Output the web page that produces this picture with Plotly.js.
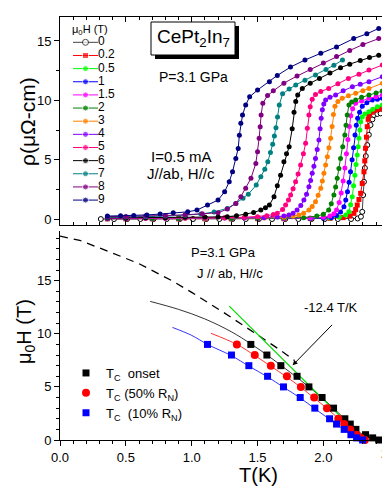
<!DOCTYPE html>
<html>
<head>
<meta charset="utf-8">
<script src="https://cdn.plot.ly/plotly-3.0.1.min.js"></script>
<style>
  html, body { margin: 0; padding: 0; background: #fff; }
  #chart { width: 382px; height: 494px; }
</style>
</head>
<body>
<div id="chart"></div>
<script>
// ---- top panel: rho(T) at fixed fields ----
var fields = ['0', '0.2', '0.5', '1', '1.5', '2', '3', '4', '5', '6', '7', '8', '9'];

var t_0T = [0.31,0.41,0.51,0.61,0.71,0.81,0.91,1.01,1.11,1.21,1.31,1.41,1.51,1.61,1.71,1.81,1.91,2.01,2.11,2.21,2.26,2.285,2.295,2.302,2.308,2.315,2.322,2.333,2.345,2.358,2.372,2.384,2.41,2.435];
var rho_0T = [0,0,0,0,0,0,0,0,0,0,0,0,0,0,0,0,0,0,0,0,0.05,0.2,0.61,2.02,3.14,4.3,5.3,6.23,7.1,7.92,8.4,8.76,8.85,8.9];

var t_02T = [0.36,0.5,0.7,0.9,1.1,1.3,1.5,1.7,1.9,2.05,2.15,2.2,2.232,2.245,2.257,2.27,2.283,2.295,2.308,2.314,2.32,2.327,2.333,2.34,2.346,2.37,2.397,2.42,2.447];
var rho_02T = [0.02,0.02,0.02,0.02,0.02,0.02,0.03,0.03,0.04,0.06,0.12,0.25,0.48,0.8,1.18,1.65,2.17,3.0,3.98,4.9,5.96,6.9,7.78,8.4,8.76,9.0,9.18,9.26,9.33];

var t_05T = [0.36,0.5,0.7,0.9,1.1,1.3,1.5,1.7,1.9,2.05,2.12,2.17,2.194,2.207,2.219,2.229,2.239,2.248,2.257,2.264,2.27,2.277,2.283,2.295,2.315,2.346,2.375,2.41,2.447];
var rho_05T = [0.03,0.03,0.03,0.03,0.03,0.03,0.03,0.04,0.05,0.08,0.15,0.34,0.61,1.2,1.88,2.8,3.7,4.6,5.39,6.1,6.8,7.5,8.2,8.6,8.85,9.04,9.25,9.45,9.6];

var t_1T = [0.36,0.5,0.7,0.9,1.1,1.3,1.5,1.7,1.9,2.0,2.06,2.1,2.13,2.156,2.17,2.183,2.195,2.206,2.218,2.229,2.24,2.25,2.26,2.275,2.295,2.33,2.371,2.41,2.447];
var rho_1T = [0.03,0.03,0.03,0.03,0.03,0.03,0.04,0.04,0.05,0.07,0.12,0.3,0.6,1.04,1.6,2.3,3.1,3.98,5.0,6.0,7.08,7.9,8.5,9.0,9.5,9.8,10.03,10.1,10.17];

var t_15T = [0.36,0.5,0.7,0.9,1.1,1.3,1.5,1.7,1.9,2.0,2.05,2.08,2.1,2.12,2.135,2.15,2.163,2.175,2.186,2.197,2.208,2.222,2.245,2.29,2.346,2.4,2.447];
var rho_15T = [0.04,0.04,0.04,0.04,0.04,0.05,0.05,0.05,0.08,0.15,0.25,0.45,0.76,1.4,2.2,3.2,4.3,5.5,6.7,7.8,8.7,9.3,9.75,9.95,10.17,10.3,10.45];

var t_2T = [0.36,0.5,0.7,0.9,1.1,1.3,1.5,1.7,1.85,1.95,2.0,2.04,2.06,2.08,2.093,2.105,2.118,2.13,2.147,2.163,2.172,2.181,2.194,2.215,2.245,2.29,2.346,2.4,2.447];
var rho_2T = [0.05,0.05,0.05,0.05,0.05,0.05,0.06,0.08,0.12,0.25,0.4,0.76,1.3,2.02,2.7,3.43,4.25,5.11,6.1,7.08,7.9,8.76,9.6,9.85,10.03,10.25,10.45,10.62,10.78];

var t_3T = [0.36,0.5,0.65,0.8,0.95,1.1,1.25,1.4,1.55,1.7,1.77,1.814,1.85,1.89,1.915,1.94,1.96,1.98,1.992,2.004,2.017,2.03,2.042,2.055,2.066,2.076,2.088,2.11,2.143,2.19,2.245,2.3,2.346,2.447];
var rho_3T = [0.05,0.05,0.05,0.06,0.06,0.07,0.08,0.08,0.1,0.15,0.25,0.34,0.5,0.76,1.05,1.46,2.0,2.59,3.2,3.85,4.55,5.25,6.0,6.8,7.8,8.8,9.5,9.9,10.17,10.38,10.59,10.8,11.0,11.43];

var t_4T = [0.36,0.5,0.65,0.8,0.95,1.1,1.25,1.4,1.55,1.65,1.7,1.738,1.77,1.8,1.828,1.852,1.872,1.89,1.903,1.915,1.928,1.94,1.953,1.966,1.975,1.983,1.992,2.003,2.017,2.05,2.093,2.15,2.22,2.28,2.346,2.447];
var rho_4T = [0.05,0.05,0.07,0.07,0.08,0.08,0.1,0.1,0.12,0.18,0.25,0.34,0.5,0.76,1.15,1.6,2.1,2.72,3.25,3.85,4.45,5.11,5.85,6.66,7.6,8.5,9.2,9.7,10.03,10.25,10.45,10.8,11.15,11.35,11.57,11.99];

var t_5T = [0.36,0.5,0.65,0.8,0.95,1.1,1.25,1.4,1.5,1.57,1.62,1.65,1.69,1.713,1.735,1.751,1.77,1.789,1.808,1.827,1.848,1.865,1.878,1.89,1.9,1.915,1.94,1.98,2.04,2.11,2.19,2.27,2.346,2.447];
var rho_5T = [0.08,0.08,0.1,0.1,0.1,0.12,0.12,0.15,0.2,0.28,0.38,0.48,0.8,1.18,1.6,2.02,2.55,3.14,3.8,4.55,5.5,6.38,7.64,8.76,9.46,10.1,10.5,10.75,11.0,11.4,11.85,12.2,12.55,12.97];

var t_6T = [0.36,0.5,0.65,0.8,0.95,1.1,1.2,1.27,1.34,1.41,1.47,1.525,1.56,1.59,1.625,1.65,1.675,1.7,1.72,1.74,1.763,1.777,1.79,1.805,1.84,1.9,1.97,2.05,2.13,2.2,2.28,2.35,2.42];
var rho_6T = [0.1,0.1,0.12,0.12,0.15,0.17,0.18,0.2,0.28,0.4,0.55,0.76,0.95,1.18,1.88,2.8,3.7,4.83,5.5,6.1,7.6,9.0,9.9,10.45,11.0,11.45,11.85,12.3,12.75,13.05,13.35,13.6,13.8];

var t_7T = [0.36,0.5,0.65,0.8,0.95,1.07,1.17,1.27,1.335,1.39,1.43,1.49,1.525,1.555,1.578,1.598,1.615,1.628,1.64,1.652,1.665,1.69,1.74,1.79,1.86,1.94,2.02,2.08,2.145];
var rho_7T = [0.15,0.17,0.2,0.25,0.33,0.42,0.6,0.9,1.32,1.75,2.1,2.86,3.56,4.2,4.83,5.6,6.3,7.0,7.7,8.6,9.6,10.55,10.95,11.3,11.7,12.13,12.6,12.95,13.4];

var t_8T = [0.36,0.5,0.65,0.8,0.95,1.08,1.2,1.27,1.335,1.373,1.41,1.45,1.487,1.5,1.512,1.52,1.527,1.54,1.576,1.62,1.7,1.8,1.9,2.0,2.1,2.2,2.3,2.42];
var rho_8T = [0.2,0.22,0.25,0.3,0.36,0.44,0.53,0.84,1.32,1.88,2.59,3.43,4.69,5.67,6.8,7.78,8.76,9.75,10.4,10.8,11.45,12.05,12.6,13.15,13.7,14.2,14.7,15.2];

var t_9T = [0.36,0.46,0.56,0.66,0.76,0.86,0.97,1.04,1.12,1.2,1.25,1.285,1.31,1.335,1.353,1.362,1.373,1.386,1.41,1.44,1.5,1.59,1.65,1.75,1.86,1.98,2.1,2.23,2.33,2.42];
var rho_9T = [0.25,0.27,0.3,0.35,0.42,0.53,0.61,0.76,1.18,1.6,2.3,3.14,3.98,5.1,5.95,7.07,8.07,8.76,9.6,10.3,10.87,11.57,12.1,12.8,13.4,13.96,14.5,15.2,15.6,16.06];

// ---- bottom panel: H-T phase diagram ----
var fieldH = [9, 8, 7, 6, 5, 4, 3, 2, 1.5, 1, 0.5, 0.2, 0];
var tcOnset = [1.449, 1.571, 1.677, 1.80, 1.89, 1.99, 2.077, 2.163, 2.204, 2.247, 2.32, 2.374, 2.42];
var tc50 = [1.343, 1.479, 1.601, 1.723, 1.829, 1.93, 2.027, 2.113, 2.158, 2.204, 2.252, 2.285, 2.315];
var tc10 = [1.12, 1.302, 1.434, 1.576, 1.697, 1.824, 1.935, 2.047, 2.10, 2.158, 2.209, 2.252, 2.298];

// fit curves
var whhT = [0, 0.15, 0.4, 0.6, 0.85, 1.0, 1.25, 1.4, 1.53, 1.68, 1.78];
var whhH = [19.2, 18.8, 17.6, 16.6, 15.0, 13.9, 11.95, 10.75, 9.65, 8.4, 7.5];
var fitOnsetT = [0.685, 0.9, 1.1, 1.3, 1.45, 1.6, 1.75, 1.9, 2.05, 2.2, 2.3, 2.4];
var fitOnsetH = [13.05, 12.3, 11.4, 10.2, 9.05, 7.75, 6.35, 4.9, 3.3, 1.55, 0.5, 0.0];
var fit50T = [1.146, 1.343, 1.48, 1.6, 1.72, 1.83, 1.93, 2.03, 2.115, 2.205, 2.26, 2.315];
var fit50H = [10.05, 9.0, 7.95, 6.95, 5.95, 4.95, 3.95, 2.95, 2.0, 1.0, 0.45, 0];
var fit10T = [0.854, 1.0, 1.12, 1.3, 1.435, 1.575, 1.7, 1.825, 1.935, 2.047, 2.158, 2.23, 2.3];
var fit10H = [10.6, 9.85, 9.0, 7.95, 6.95, 5.95, 4.95, 3.95, 2.95, 1.95, 0.95, 0.35, 0];
var slopeT = [1.285, 2.31];
var slopeH = [12.6, 0.0];

var curves = [
  [t_0T, rho_0T], [t_02T, rho_02T], [t_05T, rho_05T], [t_1T, rho_1T], [t_15T, rho_15T],
  [t_2T, rho_2T], [t_3T, rho_3T], [t_4T, rho_4T], [t_5T, rho_5T], [t_6T, rho_6T],
  [t_7T, rho_7T], [t_8T, rho_8T], [t_9T, rho_9T]
];
var colors = ['#000000', '#ff0000', '#00ff00', '#0000ff', '#ff00ff', '#008000', '#ff8000',
              '#8000ff', '#ff0080', '#000000', '#008080', '#800080', '#000080'];

var FONT = 'Arial, "Liberation Sans", sans-serif';
// pixel -> paper helpers (plot area 60..382 x 17..440)
function px(p) { return (p - 60) / 322; }
function py(p) { return (440 - p) / 423; }

var data = [];

curves.forEach(function (c, i) {
  var mk = { size: 5, color: colors[i], symbol: i === 1 ? 'square' : 'circle' };
  if (i === 0) mk = { size: 5, color: '#ffffff', symbol: 'circle', line: { color: '#000', width: 1 } };
  data.push({
    x: c[0], y: c[1], xaxis: 'x', yaxis: 'y', type: 'scatter', mode: 'lines+markers',
    line: { color: i === 0 ? '#444' : colors[i], width: 1 }, marker: mk,
    showlegend: false, hoverinfo: 'skip'
  });
});

// compact legend for the top panel, drawn on its own small axes
fields.forEach(function (f, i) {
  var mk = { size: [0, 6, 0], color: colors[i], symbol: i === 1 ? 'square' : 'circle' };
  if (i === 0) mk = { size: [0, 6, 0], color: '#ffffff', symbol: 'circle', line: { color: '#000', width: [0, 1, 0] } };
  data.push({
    x: [0, 0.5, 1], y: [i, i, i], xaxis: 'x4', yaxis: 'y4', type: 'scatter',
    mode: 'lines+markers+text', text: ['', '', f], textposition: 'middle right',
    textfont: { family: FONT, size: 12, color: '#000' }, cliponaxis: false,
    line: { color: i === 0 ? '#444' : colors[i], width: 1 }, marker: mk,
    showlegend: false, hoverinfo: 'skip'
  });
});

// bottom panel lines
data.push({ x: whhT, y: whhH, xaxis: 'x2', yaxis: 'y2', mode: 'lines',
  line: { color: '#000', width: 1.3, dash: '8px,6px' }, showlegend: false, hoverinfo: 'skip' });
data.push({ x: fitOnsetT, y: fitOnsetH, xaxis: 'x2', yaxis: 'y2', mode: 'lines', line: { color: '#000', width: 0.8, shape: 'spline' }, showlegend: false, hoverinfo: 'skip' });
data.push({ x: fit50T, y: fit50H, xaxis: 'x2', yaxis: 'y2', mode: 'lines', line: { color: '#ff0000', width: 0.8, shape: 'spline' }, showlegend: false, hoverinfo: 'skip' });
data.push({ x: fit10T, y: fit10H, xaxis: 'x2', yaxis: 'y2', mode: 'lines', line: { color: '#0000ff', width: 0.8, shape: 'spline' }, showlegend: false, hoverinfo: 'skip' });
data.push({ x: slopeT, y: slopeH, xaxis: 'x2', yaxis: 'y2', mode: 'lines', line: { color: '#00dd00', width: 1.2 }, showlegend: false, hoverinfo: 'skip' });

// bottom panel markers
data.push({ x: tcOnset, y: fieldH, xaxis: 'x2', yaxis: 'y2', mode: 'markers', name: 'T<sub>C</sub>\u00a0\u00a0onset',
  marker: { symbol: 'square', size: 7, color: '#000' }, cliponaxis: false });
data.push({ x: tc50, y: fieldH, xaxis: 'x2', yaxis: 'y2', mode: 'markers', name: 'T<sub>C</sub>\u00a0(50% R<sub>N</sub>)',
  marker: { symbol: 'circle', size: 8, color: '#ff0000' }, cliponaxis: false });
data.push({ x: tc10, y: fieldH, xaxis: 'x2', yaxis: 'y2', mode: 'markers', name: 'T<sub>C</sub>\u00a0\u00a0(10% R<sub>N</sub>)',
  marker: { symbol: 'square', size: 7, color: '#0000ff' }, cliponaxis: false });

var xr = [0, 2.445];
var axCommon = { showline: true, linecolor: '#000', linewidth: 1, zeroline: false, showgrid: false,
  tickcolor: '#000', tickfont: { family: FONT, size: 13, color: '#000' } };

function note(text, x, y, size, angle) {
  return { text: text, xref: 'paper', yref: 'paper', x: px(x), y: py(y), xanchor: 'center', yanchor: 'middle',
    textangle: angle || 0, showarrow: false, font: { family: FONT, size: size, color: '#000' } };
}

var layout = {
  width: 382, height: 494,
  margin: { l: 60, r: 0, t: 17, b: 54 },
  paper_bgcolor: '#fff', plot_bgcolor: 'rgba(0,0,0,0)',
  font: { family: FONT, color: '#000' },
  showlegend: true,
  xaxis: Object.assign({}, axCommon, { anchor: 'y', domain: [0, 1], range: xr, ticks: 'inside', mirror: 'ticks',
    dtick: 0.5, ticklen: 5, showticklabels: false,
    minor: { dtick: 0.1, ticklen: 3, ticks: 'inside', tickcolor: '#000' } }),
  yaxis: Object.assign({}, axCommon, { anchor: 'x', domain: [py(225), 1], range: [-0.5, 17.02], ticks: 'outside',
    dtick: 5, ticklen: 5, minor: { dtick: 2.5, ticklen: 3, ticks: 'outside', tickcolor: '#000' } }),
  xaxis2: Object.assign({}, axCommon, { anchor: 'y2', domain: [0, 1], range: xr, ticks: 'outside',
    dtick: 0.5, ticklen: 5, tickformat: '.1f',
    minor: { dtick: 0.1, ticklen: 3, ticks: 'outside', tickcolor: '#000' } }),
  xaxis3: Object.assign({}, axCommon, { overlaying: 'x2', anchor: 'y2', side: 'top', range: xr, ticks: 'inside',
    dtick: 0.5, ticklen: 5, showticklabels: false,
    minor: { dtick: 0.1, ticklen: 3, ticks: 'inside', tickcolor: '#000' } }),
  yaxis2: Object.assign({}, axCommon, { anchor: 'x2', domain: [0, py(231)], range: [0, 19.68], ticks: 'outside',
    dtick: 5, ticklen: 5, minor: { dtick: 1, ticklen: 3, ticks: 'outside', tickcolor: '#000' } }),
  xaxis4: { domain: [px(73), px(98)], anchor: 'y4', range: [0, 1], autorange: false, visible: false, fixedrange: true },
  yaxis4: { domain: [py(206.65), py(35.75)], anchor: 'x4', range: [12.5, -0.5], autorange: false, visible: false, fixedrange: true },
  legend: { x: px(66), y: py(358), xanchor: 'left', yanchor: 'top', bgcolor: 'rgba(0,0,0,0)',
    font: { family: FONT, size: 13, color: '#000' }, tracegroupgap: 0 },
  shapes: [
    { type: 'rect', xref: 'paper', yref: 'paper', x0: px(155), x1: px(239), y0: py(59), y1: py(26),
      fillcolor: '#000', line: { width: 0 } },
    { type: 'rect', xref: 'paper', yref: 'paper', x0: px(151), x1: px(235), y0: py(55), y1: py(22),
      fillcolor: '#fff', line: { color: '#000', width: 1 } }
  ],
  annotations: [
    note('ρ(μΩ-cm)', 27, 122, 21, -90),
    note('μ<sub>0</sub>H (T)', 25, 332, 20, -90),
    note('μ<sub>0</sub>H (T)', 90, 30, 11),
    note('CePt<sub>2</sub>In<sub>7</sub>', 193, 38, 19),
    note('P=3.1 GPa', 193, 77, 14),
    note('I=0.5 mA', 181, 156, 15),
    note('J//ab, H//c', 181, 173, 15),
    note('P=3.1 GPa', 223, 252, 13),
    note('J // ab, H//c', 230, 273, 13),
    note('-12.4 T/K', 331, 307, 13),
    { text: '', xref: 'x2', yref: 'y2', x: 1.766, y: 7.03, ax: 41, ay: -42, showarrow: true,
      arrowhead: 2, arrowsize: 1, arrowwidth: 1, arrowcolor: '#000' },
    note('T(K)', 258, 475, 20),
    note('2.5', 390, 453, 13)
  ]
};

Plotly.newPlot('chart', data, layout, { displayModeBar: false, staticPlot: true });
</script>
</body>
</html>
